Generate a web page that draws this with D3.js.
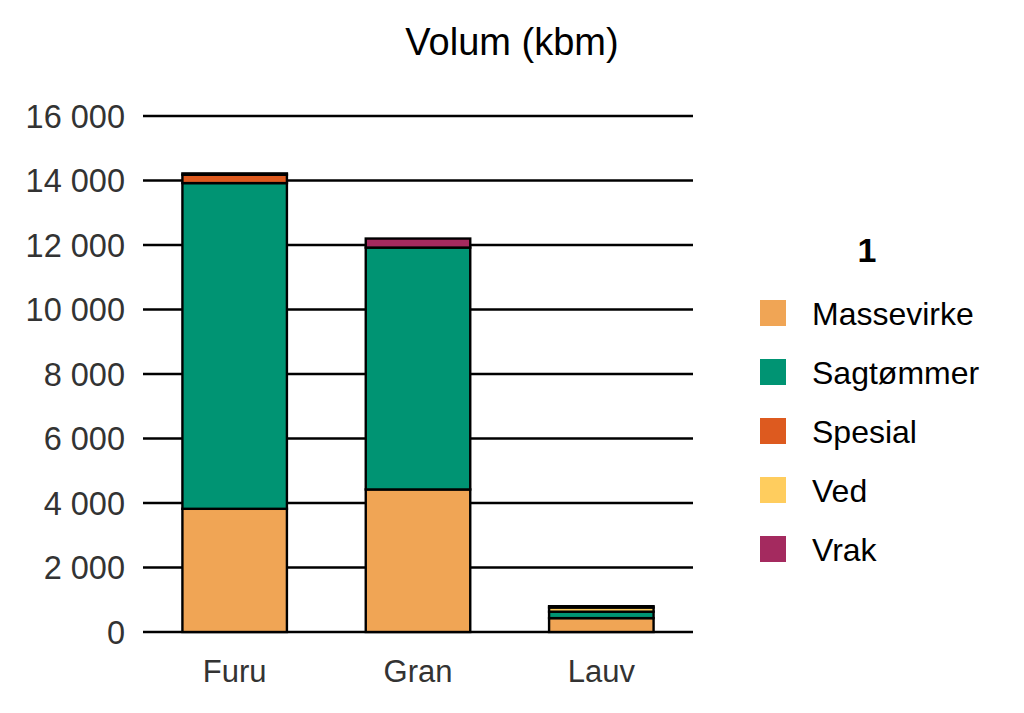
<!DOCTYPE html>
<html>
<head>
<meta charset="utf-8">
<script src="https://cdn.jsdelivr.net/npm/d3@7"></script>
<style>
  body { margin: 0; background: #fff; }
  text { font-family: "Liberation Sans", Arial, sans-serif; }
</style>
</head>
<body>
<div id="chart"></div>
<script>
var categories = ["Furu", "Gran", "Lauv"];
var seriesNames = ["Massevirke", "Sagtømmer", "Spesial", "Ved", "Vrak"];
var colors = ["#F0A555", "#009473", "#DD5A1F", "#FFCD5E", "#A42A5F"];
var massevirke = [3820, 4420, 430];
var sagtommer = [10100, 7500, 200];
var spesial = [260, 0, 0];
var ved = [0, 0, 130];
var vrak = [40, 280, 40];
var yTicks = [0, 2000, 4000, 6000, 8000, 10000, 12000, 14000, 16000];

var width = 1024, height = 713;
var plotLeft = 143, plotRight = 693, plotTop = 116, plotBottom = 632;

var rows = categories.map(function(c, i) {
    return { cat: c, Massevirke: massevirke[i], "Sagtømmer": sagtommer[i],
             Spesial: spesial[i], Ved: ved[i], Vrak: vrak[i] };
});

var svg = d3.select("#chart").append("svg")
    .attr("width", width)
    .attr("height", height);

var x = d3.scaleBand().domain(categories).range([plotLeft, plotRight]).paddingInner(0.43).paddingOuter(0.215);
var y = d3.scaleLinear().domain([0, 16000]).range([plotBottom, plotTop]);

var fmt = function(d) { return d3.format(",")(d).replace(/,/g, " "); };

// grid
svg.append("g").selectAll("line")
    .data(yTicks)
    .enter().append("line")
    .attr("x1", plotLeft).attr("x2", plotRight)
    .attr("y1", function(d) { return y(d); })
    .attr("y2", function(d) { return y(d); })
    .style("stroke", "#000")
    .style("stroke-width", 2.4);

// y labels
svg.append("g").selectAll("text")
    .data(yTicks)
    .enter().append("text")
    .attr("x", 125)
    .attr("y", function(d) { return y(d); })
    .attr("dy", "0.36em")
    .attr("text-anchor", "end")
    .style("font-size", "32.5px")
    .style("fill", "#333")
    .text(function(d) { return fmt(d); });

// bars
var stack = d3.stack().keys(seriesNames)(rows);
svg.append("g").selectAll("g")
    .data(stack)
    .enter().append("g")
    .style("fill", function(d, i) { return colors[i]; })
    .selectAll("rect")
    .data(function(d) { return d.filter(function(p) { return p[1] > p[0]; }); })
    .enter().append("rect")
    .attr("x", function(d) { return x(d.data.cat); })
    .attr("width", x.bandwidth())
    .attr("y", function(d) { return y(d[1]); })
    .attr("height", function(d) { return y(d[0]) - y(d[1]); })
    .style("stroke", "#000")
    .style("stroke-width", 2.4);

// x labels
svg.append("g").selectAll("text")
    .data(categories)
    .enter().append("text")
    .attr("x", function(d) { return x(d) + x.bandwidth() / 2; })
    .attr("y", 682)
    .attr("text-anchor", "middle")
    .style("font-size", "31px")
    .style("fill", "#333")
    .text(function(d) { return d; });

// title
svg.append("text")
    .attr("x", 512).attr("y", 55)
    .attr("text-anchor", "middle")
    .style("font-size", "38px")
    .style("fill", "#000")
    .text("Volum (kbm)");

// legend
svg.append("text")
    .attr("x", 867).attr("y", 262)
    .attr("text-anchor", "middle")
    .style("font-size", "34px")
    .style("font-weight", "bold")
    .text("1");

var legend = svg.append("g").selectAll("g")
    .data(seriesNames)
    .enter().append("g")
    .attr("transform", function(d, i) { return "translate(760," + (300 + i * 59) + ")"; });

legend.append("rect")
    .attr("width", 26).attr("height", 26)
    .style("fill", function(d, i) { return colors[i]; });

legend.append("text")
    .attr("x", 52).attr("y", 13)
    .attr("dy", "0.36em")
    .style("font-size", "32px")
    .style("fill", "#000")
    .text(function(d) { return d; });
</script>
</body>
</html>
